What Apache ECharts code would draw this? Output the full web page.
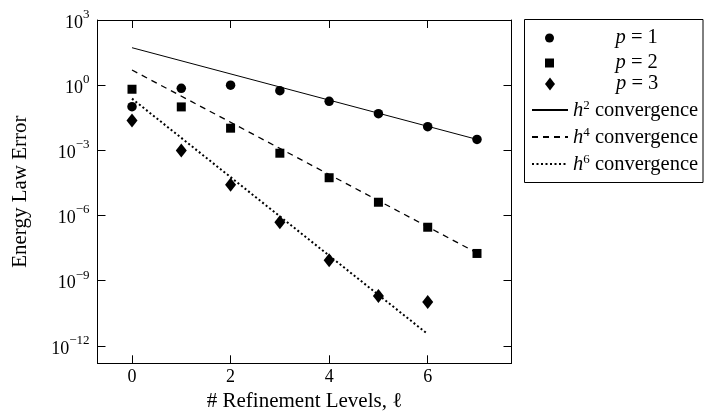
<!DOCTYPE html>
<html>
<head>
<meta charset="utf-8">
<script src="https://cdn.jsdelivr.net/npm/echarts@6/dist/echarts.min.js"></script>
<style>html,body{margin:0;padding:0;background:#fff}#c{width:704px;height:412px}</style>
</head>
<body>
<div id="c"></div>
<script>
// ---- data ----
const levels = [0, 1, 2, 3, 4, 5, 6, 7];
const p1Err = [0.102, 0.72, 1.0, 0.56, 0.18, 0.049, 0.0123, 3.2e-3];
const p2Err = [0.65, 0.10, 0.0105, 7.4e-4, 5.5e-5, 4.1e-6, 2.9e-7, 1.8e-8];
const p3Levels = [0, 1, 2, 3, 4, 5, 6];
const p3Err = [0.0234, 9.8e-4, 2.6e-5, 4.9e-7, 8.7e-9, 2.0e-10, 1.05e-10];
const h2Levels = [0, 7];
const h2Vals = [53, 3.2e-3];
const h4Levels = [0, 7];
const h4Vals = [5.0, 1.9e-8];
const h6Levels = [0, 6];
const h6Vals = [0.24, 3.5e-12];
const xTicks = [0, 2, 4, 6];
const yTickExps = [-12, -9, -6, -3, 0, 3];

const FONT = "'Liberation Serif', 'Times New Roman', serif";
const toPts = (xs, ys) => xs.map((x, i) => [x, Math.log10(ys[i])]);
const expStr = v => (v < 0 ? '\u2212' + (-v) : '' + v);

const chart = echarts.init(document.getElementById('c'), null, {renderer: 'canvas'});

const axisLine = {onZero: false, lineStyle: {color: '#000', width: 1}};
const xTick = {inside: true, length: 8, customValues: xTicks, lineStyle: {color: '#000', width: 1}};
const yTick = {inside: true, length: 8, customValues: yTickExps, lineStyle: {color: '#000', width: 1}};
const X_MIN = -0.7, X_MAX = 7.7, Y_MIN = -12.8, Y_MAX = 3;

const legendNames = {
  p1: '{i|p}{n| = 1}', p2: '{i|p}{n| = 2}', p3: '{i|p}{n| = 3}',
  h2: '{i|h}{s|2}{n| convergence}', h4: '{i|h}{s|4}{n| convergence}', h6: '{i|h}{s|6}{n| convergence}'
};
const pRich = {
  i: {fontFamily: FONT, fontSize: 20.5, fontStyle: 'italic', color: '#000', padding: [0, 0, 0, 43], lineHeight: 20},
  n: {fontFamily: FONT, fontSize: 20.5, color: '#000', lineHeight: 20}
};
const hidden = {color: 'rgba(0,0,0,0)', borderWidth: 0, opacity: 0};

const option = {
  animation: false,
  backgroundColor: '#fff',
  grid: {left: 97.5, right: 192.5, top: 20, bottom: 48.7, containLabel: false, outerBoundsMode: 'none'},
  xAxis: [
    {
      type: 'value', min: X_MIN, max: X_MAX, position: 'bottom',
      axisLine: axisLine, axisTick: xTick,
      axisLabel: {customValues: xTicks, margin: 5, fontFamily: FONT, fontSize: 18, color: '#000'},
      splitLine: {show: false},
      name: '# Refinement Levels, \u2113', nameLocation: 'middle', nameGap: 26,
      nameTextStyle: {fontFamily: FONT, fontSize: 21, color: '#000'}
    },
    {
      type: 'value', min: X_MIN, max: X_MAX, position: 'top',
      axisLine: axisLine, axisTick: xTick, axisLabel: {show: false}, splitLine: {show: false}
    }
  ],
  yAxis: [
    {
      type: 'value', min: Y_MIN, max: Y_MAX, position: 'left',
      axisLine: axisLine, axisTick: yTick,
      axisLabel: {
        customValues: yTickExps, margin: 8, color: '#000',
        formatter: v => '{b|10}{e|' + expStr(v) + '}',
        rich: {
          b: {fontFamily: FONT, fontSize: 18, color: '#000', padding: [6, 0, 0, 0]},
          e: {fontFamily: FONT, fontSize: 13, color: '#000', verticalAlign: 'top'}
        }
      },
      splitLine: {show: false},
      name: 'Energy Law Error', nameLocation: 'middle', nameGap: 67,
      nameTextStyle: {fontFamily: FONT, fontSize: 21, color: '#000'}
    },
    {
      type: 'value', min: Y_MIN, max: Y_MAX, position: 'right',
      axisLine: axisLine, axisTick: yTick, axisLabel: {show: false}, splitLine: {show: false}
    }
  ],
  legend: [
    {
      data: [{name: 'p1', icon: 'circle'}, {name: 'p2', icon: 'path://M0,0H10V10H0Z'}],
      orient: 'vertical', left: 545, top: 27.5, padding: 0, symbolKeepAspect: true,
      itemWidth: 36, itemHeight: 9, itemGap: 4, selectedMode: false,
      formatter: n => legendNames[n],
      textStyle: {color: '#000', rich: pRich}
    },
    {
      data: [{name: 'p3', icon: 'path://M5,0L10,6.5L5,13L0,6.5Z'}],
      orient: 'vertical', left: 545, top: 73.5, padding: 0, symbolKeepAspect: true,
      itemWidth: 36, itemHeight: 13, itemGap: 4, selectedMode: false,
      formatter: n => legendNames[n],
      textStyle: {color: '#000', rich: pRich}
    },
    {
      data: [{name: 'h2', itemStyle: hidden}, {name: 'h4', itemStyle: hidden}, {name: 'h6', itemStyle: hidden}],
      orient: 'vertical', left: 531, top: 99, padding: 0,
      itemWidth: 36, itemHeight: 12, itemGap: 5, selectedMode: false,
      formatter: n => legendNames[n],
      textStyle: {
        color: '#000',
        rich: {
          i: {fontFamily: FONT, fontSize: 20.5, fontStyle: 'italic', color: '#000', lineHeight: 22, verticalAlign: 'bottom'},
          s: {fontFamily: FONT, fontSize: 13, color: '#000', verticalAlign: 'top', lineHeight: 22},
          n: {fontFamily: FONT, fontSize: 20.5, color: '#000', lineHeight: 22, verticalAlign: 'bottom'}
        }
      }
    }
  ],
  graphic: [{
    type: 'rect', silent: true, z: 100,
    shape: {x: 524.5, y: 19.5, width: 178.5, height: 163},
    style: {fill: 'none', stroke: '#000', lineWidth: 1}
  }],
  series: [
    {name: 'h2', type: 'line', data: toPts(h2Levels, h2Vals), symbol: 'none', z: 2,
     lineStyle: {color: '#000', width: 1, type: 'solid'}, itemStyle: {color: '#000'}},
    {name: 'h4', type: 'line', data: toPts(h4Levels, h4Vals), symbol: 'none', z: 2,
     lineStyle: {color: '#000', width: 1.3, type: [6, 5]}, itemStyle: {color: '#000'}},
    {name: 'h6', type: 'line', data: toPts(h6Levels, h6Vals), symbol: 'none', z: 2,
     lineStyle: {color: '#000', width: 2, type: [2, 2.5]}, itemStyle: {color: '#000'}},
    {name: 'p1', type: 'scatter', data: toPts(levels, p1Err), symbol: 'circle', symbolSize: 9.5, z: 3,
     itemStyle: {color: '#000', opacity: 1}},
    {name: 'p2', type: 'scatter', data: toPts(levels, p2Err), symbol: 'rect', symbolSize: 9, z: 3,
     itemStyle: {color: '#000', opacity: 1}},
    {name: 'p3', type: 'scatter', data: toPts(p3Levels, p3Err), symbol: 'diamond', symbolSize: [11, 14], z: 3,
     itemStyle: {color: '#000', opacity: 1}}
  ]
};
chart.setOption(option);
</script>
</body>
</html>
